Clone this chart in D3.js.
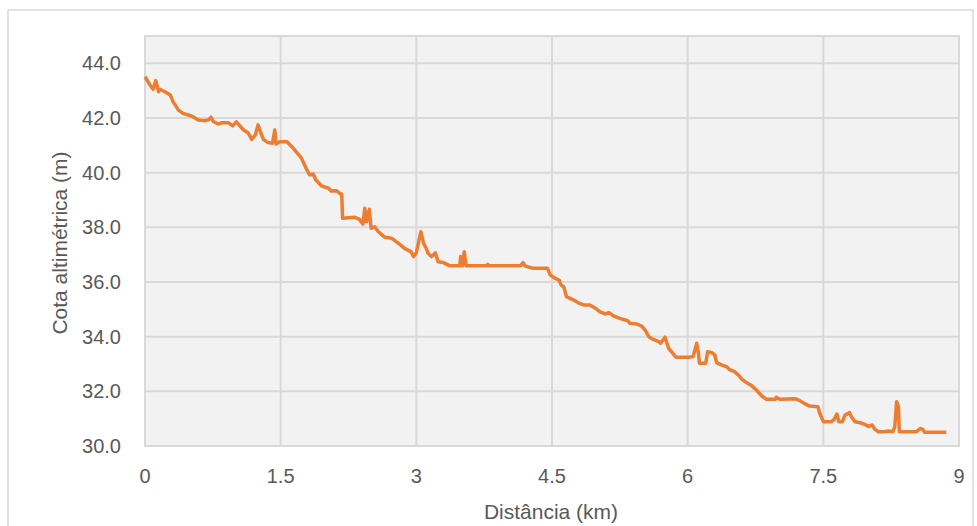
<!DOCTYPE html>
<html lang="pt">
<head>
    <meta charset="UTF-8">
    <title>Perfil altimétrico</title>
    <script src="https://d3js.org/d3.v7.min.js"></script>
    <style>
        body { margin: 0; background: #fff; }
        text { font-family: "Liberation Sans", Arial, sans-serif; fill: #595959; }
    </style>
</head>
<body>
    <svg width="977" height="526"></svg>
    <script>
        // dados
        const distKm = [0, 0.055, 0.09, 0.12, 0.15, 0.165, 0.22, 0.28, 0.31, 0.37, 0.42, 0.48, 0.53, 0.59, 0.66, 0.70, 0.73, 0.755, 0.81, 0.85,
            0.92, 0.97, 1.01, 1.04, 1.09, 1.14, 1.18, 1.22, 1.25, 1.28, 1.31, 1.36, 1.41, 1.435, 1.45, 1.49, 1.57, 1.64, 1.70, 1.73,
            1.79, 1.82, 1.86, 1.89, 1.95, 2.03, 2.06, 2.12, 2.16, 2.175, 2.185, 2.32, 2.37, 2.41, 2.43, 2.45, 2.48, 2.50, 2.54, 2.58,
            2.65, 2.73, 2.80, 2.87, 2.94, 2.97, 3.00, 3.05, 3.08, 3.11, 3.13, 3.17, 3.21, 3.24, 3.30, 3.37, 3.48, 3.49, 3.51, 3.53,
            3.55, 3.78, 3.79, 3.80, 4.15, 4.18, 4.20, 4.29, 4.45, 4.48, 4.53, 4.58, 4.60, 4.63, 4.66, 4.70, 4.74, 4.79, 4.85, 4.92,
            4.98, 5.03, 5.09, 5.13, 5.18, 5.25, 5.31, 5.34, 5.36, 5.44, 5.49, 5.53, 5.57, 5.62, 5.68, 5.70, 5.75, 5.79, 5.82, 5.87,
            5.93, 6.01, 6.06, 6.07, 6.10, 6.12, 6.13, 6.20, 6.22, 6.27, 6.30, 6.32, 6.38, 6.43, 6.47, 6.51, 6.56, 6.60, 6.65, 6.71,
            6.76, 6.82, 6.87, 6.97, 6.98, 7.02, 7.19, 7.24, 7.30, 7.35, 7.44, 7.46, 7.50, 7.59, 7.62, 7.65, 7.67, 7.71, 7.74, 7.79,
            7.81, 7.85, 7.91, 7.96, 8.00, 8.04, 8.07, 8.11, 8.17, 8.22, 8.27, 8.29, 8.31, 8.33, 8.34, 8.53, 8.57, 8.60, 8.62, 8.86];
        const cotaM = [43.51, 43.21, 43.05, 43.37, 42.96, 43.05, 42.96, 42.84, 42.60, 42.29, 42.17, 42.11, 42.05, 41.93, 41.90, 41.93, 42.03, 41.87, 41.78, 41.83,
            41.83, 41.71, 41.86, 41.75, 41.56, 41.46, 41.22, 41.38, 41.75, 41.46, 41.22, 41.10, 41.08, 41.56, 41.05, 41.13, 41.13, 40.89, 40.65, 40.53,
            40.10, 39.92, 39.95, 39.73, 39.52, 39.43, 39.33, 39.34, 39.22, 39.22, 38.33, 38.37, 38.29, 38.12, 38.70, 38.21, 38.66, 37.97, 38.02, 37.84,
            37.64, 37.60, 37.42, 37.23, 37.11, 36.93, 37.07, 37.84, 37.42, 37.23, 37.05, 36.93, 37.07, 36.74, 36.71, 36.59, 36.59, 36.93, 36.59, 37.11,
            36.59, 36.59, 36.65, 36.59, 36.59, 36.71, 36.59, 36.50, 36.50, 36.26, 36.14, 36.07, 35.89, 35.83, 35.46, 35.40, 35.34, 35.24, 35.16, 35.16,
            35.04, 34.91, 34.83, 34.88, 34.76, 34.67, 34.61, 34.58, 34.49, 34.46, 34.39, 34.24, 34.00, 33.90, 33.82, 33.76, 33.98, 33.57, 33.45, 33.25,
            33.25, 33.25, 33.27, 33.39, 33.76, 33.39, 33.03, 33.03, 33.45, 33.41, 33.33, 33.05, 32.96, 32.90, 32.78, 32.74, 32.60, 32.44, 32.32, 32.20,
            32.05, 31.83, 31.71, 31.71, 31.78, 31.71, 31.73, 31.66, 31.54, 31.46, 31.44, 31.20, 30.89, 30.89, 30.98, 31.17, 30.89, 30.89, 31.13, 31.22,
            31.07, 30.89, 30.85, 30.79, 30.71, 30.77, 30.61, 30.52, 30.52, 30.55, 30.52, 30.71, 31.62, 31.44, 30.52, 30.52, 30.64, 30.61, 30.50, 30.50];

        const xTicks = [0, 1.5, 3, 4.5, 6, 7.5, 9];
        const yTicks = [30, 32, 34, 36, 38, 40, 42, 44];

        const svg = d3.select('svg');
        const plotL = 145, plotR = 959, plotT = 36, plotB = 446;

        const x = d3.scaleLinear().domain([0, 9]).range([plotL, plotR]);
        const y = d3.scaleLinear().domain([30, 45]).range([plotB, plotT]);

        // moldura externa
        svg.append('rect')
            .attr('x', 8).attr('y', 10)
            .attr('width', 965).attr('height', 530)
            .attr('fill', '#fff')
            .attr('stroke', '#D9D9D9')
            .attr('stroke-width', 1.5);

        // área do gráfico
        svg.append('rect')
            .attr('x', plotL).attr('y', plotT)
            .attr('width', plotR - plotL).attr('height', plotB - plotT)
            .attr('fill', '#F2F2F2')
            .attr('stroke', '#D9D9D9')
            .attr('stroke-width', 2);

        // grade
        svg.append('g').selectAll('line')
            .data(xTicks)
            .enter().append('line')
            .attr('x1', d => x(d)).attr('x2', d => x(d))
            .attr('y1', plotT).attr('y2', plotB)
            .attr('stroke', '#D9D9D9').attr('stroke-width', 2);

        svg.append('g').selectAll('line')
            .data(yTicks)
            .enter().append('line')
            .attr('x1', plotL).attr('x2', plotR)
            .attr('y1', d => y(d)).attr('y2', d => y(d))
            .attr('stroke', '#D9D9D9').attr('stroke-width', 2);

        // rótulos dos eixos
        svg.append('g').selectAll('text')
            .data(yTicks)
            .enter().append('text')
            .attr('x', 121)
            .attr('y', d => y(d))
            .attr('dy', '0.35em')
            .attr('text-anchor', 'end')
            .attr('font-size', 20)
            .text(d => d3.format('.1f')(d));

        svg.append('g').selectAll('text')
            .data(xTicks)
            .enter().append('text')
            .attr('x', d => x(d))
            .attr('y', 483)
            .attr('text-anchor', 'middle')
            .attr('font-size', 20)
            .text(d => d);

        svg.append('text')
            .attr('x', 551).attr('y', 519)
            .attr('text-anchor', 'middle')
            .attr('font-size', 21)
            .text('Distância (km)');

        svg.append('text')
            .attr('transform', 'translate(67,243) rotate(-90)')
            .attr('text-anchor', 'middle')
            .attr('font-size', 21)
            .text('Cota altimétrica (m)');

        // perfil
        const line = d3.line()
            .x((d, i) => x(distKm[i]))
            .y(d => y(d));

        svg.append('path')
            .datum(cotaM)
            .attr('d', line)
            .attr('fill', 'none')
            .attr('stroke', '#ED7D31')
            .attr('stroke-width', 3.5)
            .attr('stroke-linejoin', 'round');
    </script>
</body>
</html>
